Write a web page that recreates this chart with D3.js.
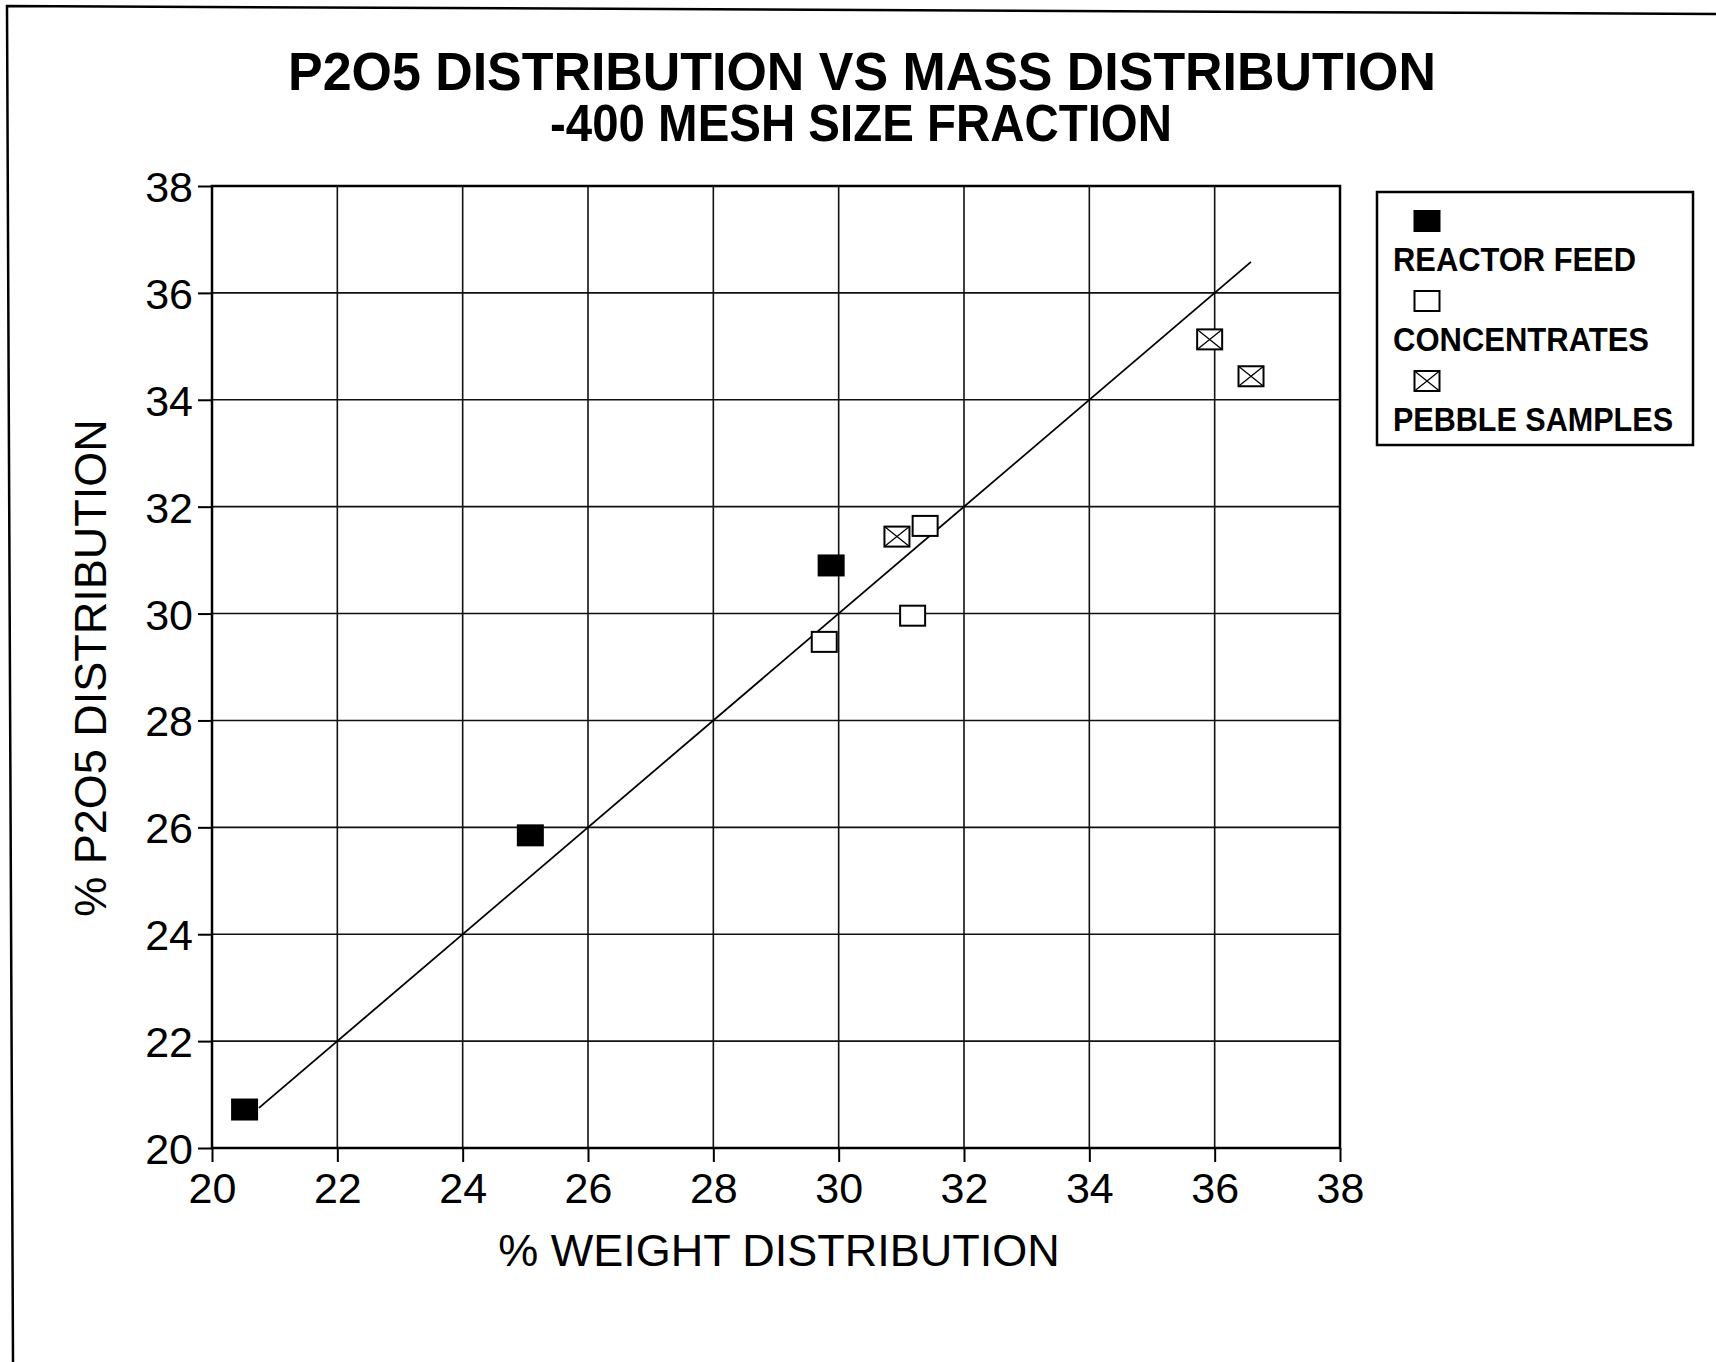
<!DOCTYPE html>
<html>
<head>
<meta charset="utf-8">
<script src="https://cdn.jsdelivr.net/npm/d3@7"></script>
<style>
  body { margin: 0; background: #fff; }
  svg { display: block; font-family: "Liberation Sans", Arial, sans-serif; }
  .tick text { font-size: 43px; fill: #000; }
  .tick line { stroke: #000; stroke-width: 2; }
</style>
</head>
<body>
<svg id="chart"></svg>
<script>
// values
const xTicks = [20, 22, 24, 26, 28, 30, 32, 34, 36, 38];
const yTicks = [20, 22, 24, 26, 28, 30, 32, 34, 36, 38];

const feedWeight = [20.52, 25.08, 29.88];
const feedP2O5 = [20.72, 25.85, 30.9];

const concWeight = [29.77, 31.18, 31.38];
const concP2O5 = [29.47, 29.96, 31.64];

const pebbleWeight = [30.93, 35.92, 36.58];
const pebbleP2O5 = [31.44, 35.13, 34.44];

const fitWeight = [20.75, 36.58];
const fitP2O5 = [20.75, 36.58];

const seriesNames = ['REACTOR FEED', 'CONCENTRATES', 'PEBBLE SAMPLES'];

const W = 1716, H = 1362;
const plot = {left: 212, right: 1340, top: 186, bottom: 1148};

const svg = d3.select('#chart').attr('width', W).attr('height', H);

// scanned page frame (left and top edges only)
svg.append('path')
  .attr('d', `M1716,14 L7,6 L13,1362`)
  .attr('fill', 'none')
  .attr('stroke', '#000')
  .attr('stroke-width', 2.5);

const x = d3.scaleLinear().domain([20, 38]).range([plot.left, plot.right]);
const y = d3.scaleLinear().domain([20, 38]).range([plot.bottom, plot.top]);

// titles
svg.append('text')
  .attr('x', 288).attr('y', 90)
  .attr('textLength', 1148).attr('lengthAdjust', 'spacingAndGlyphs')
  .style('font-size', '53px').style('font-weight', 'bold')
  .text('P2O5 DISTRIBUTION VS MASS DISTRIBUTION');

svg.append('text')
  .attr('x', 550).attr('y', 141)
  .attr('textLength', 622).attr('lengthAdjust', 'spacingAndGlyphs')
  .style('font-size', '51px').style('font-weight', 'bold')
  .text('-400 MESH SIZE FRACTION');

// grid
const grid = svg.append('g');
grid.selectAll('.vgrid')
  .data(xTicks.slice(1, -1))
  .join('line')
  .attr('class', 'vgrid')
  .attr('x1', d => x(d)).attr('x2', d => x(d))
  .attr('y1', plot.top).attr('y2', plot.bottom)
  .attr('stroke', '#111').attr('stroke-width', 1.6);

grid.selectAll('.hgrid')
  .data(yTicks.slice(1, -1))
  .join('line')
  .attr('class', 'hgrid')
  .attr('x1', plot.left).attr('x2', plot.right)
  .attr('y1', d => y(d)).attr('y2', d => y(d))
  .attr('stroke', '#111').attr('stroke-width', 1.6);

// axes
const xAxis = d3.axisBottom(x).tickValues(xTicks).tickSize(14).tickPadding(10).tickFormat(d3.format('d'));
const yAxis = d3.axisLeft(y).tickValues(yTicks).tickSize(14).tickPadding(5).tickFormat(d3.format('d'));

svg.append('g')
  .attr('transform', `translate(0,${plot.bottom})`)
  .call(xAxis)
  .call(g => g.select('.domain').remove())
  .call(g => g.selectAll('.tick text').attr('dy', '0.71em'));

svg.append('g')
  .attr('transform', `translate(${plot.left},0)`)
  .call(yAxis)
  .call(g => g.select('.domain').remove())
  .call(g => g.selectAll('.tick text').attr('dy', '0.36em'));

// plot frame
svg.append('rect')
  .attr('x', plot.left).attr('y', plot.top)
  .attr('width', plot.right - plot.left).attr('height', plot.bottom - plot.top)
  .attr('fill', 'none').attr('stroke', '#000').attr('stroke-width', 2.5);

// axis titles
svg.append('text')
  .attr('x', (plot.left + plot.right) / 2 + 3).attr('y', 1266)
  .attr('text-anchor', 'middle')
  .style('font-size', '45px')
  .text('% WEIGHT DISTRIBUTION');

svg.append('text')
  .attr('transform', `translate(106,668) rotate(-90)`)
  .attr('text-anchor', 'middle')
  .style('font-size', '45px')
  .text('% P2O5 DISTRIBUTION');

// fitted line
svg.append('line')
  .attr('x1', x(fitWeight[0])).attr('y1', y(fitP2O5[0]))
  .attr('x2', x(fitWeight[1])).attr('y2', y(fitP2O5[1]))
  .attr('stroke', '#000').attr('stroke-width', 1.8);

// markers
const mw = 25, mh = 20;

function drawMarker(g, kind) {
  g.append('rect')
    .attr('x', -mw / 2).attr('y', -mh / 2)
    .attr('width', mw).attr('height', mh)
    .attr('fill', kind === 0 ? '#000' : '#fff')
    .attr('stroke', '#000').attr('stroke-width', 2);
  if (kind === 2) {
    g.append('path')
      .attr('d', `M${-mw / 2},${-mh / 2} L${mw / 2},${mh / 2} M${mw / 2},${-mh / 2} L${-mw / 2},${mh / 2}`)
      .attr('stroke', '#000').attr('stroke-width', 1.3);
  }
}

const series = [
  {kind: 0, xs: feedWeight, ys: feedP2O5},
  {kind: 1, xs: concWeight, ys: concP2O5},
  {kind: 2, xs: pebbleWeight, ys: pebbleP2O5}
];

series.forEach(s => {
  s.xs.forEach((v, i) => {
    const g = svg.append('g')
      .attr('transform', `translate(${x(v)},${y(s.ys[i])})`);
    drawMarker(g, s.kind);
  });
});

// legend
const legend = svg.append('g');
legend.append('rect')
  .attr('x', 1377).attr('y', 192)
  .attr('width', 316).attr('height', 253)
  .attr('fill', '#fff').attr('stroke', '#000').attr('stroke-width', 2.5);

const legendWidths = [243, 256, 280];
seriesNames.forEach((name, i) => {
  const top = 211 + i * 80;
  const g = legend.append('g').attr('transform', `translate(1427,${top + mh / 2})`);
  drawMarker(g, i);
  legend.append('text')
    .attr('x', 1393).attr('y', top + 60)
    .attr('textLength', legendWidths[i]).attr('lengthAdjust', 'spacingAndGlyphs')
    .style('font-size', '33px').style('font-weight', 'bold')
    .text(name);
});
</script>
</body>
</html>
